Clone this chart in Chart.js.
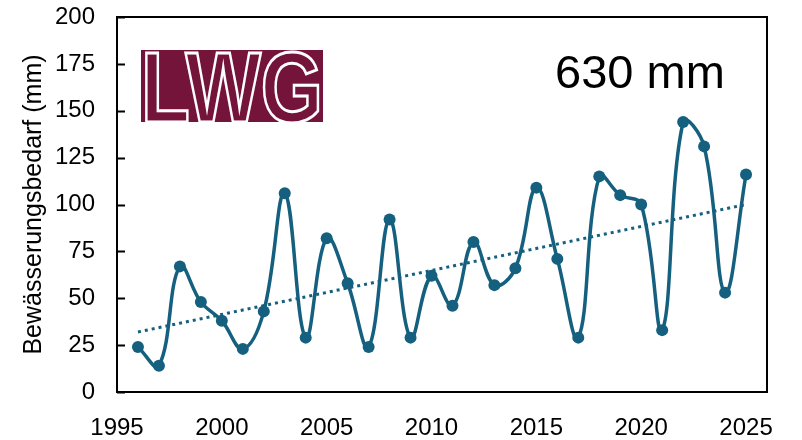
<!DOCTYPE html>
<html>
<head>
<meta charset="utf-8">
<script src="https://cdn.jsdelivr.net/npm/chart.js@4.4.1/dist/chart.umd.min.js"></script>
<style>
  html, body { margin: 0; padding: 0; background: #fff; }
  canvas { display: block; }
</style>
</head>
<body>
<canvas id="chart" width="802" height="440"></canvas>
<script>
// ######### Bewässerungsbedarf 1996 - 2025
// ###########################################

const years = [1996, 1997, 1998, 1999, 2000, 2001, 2002, 2003, 2004, 2005,
               2006, 2007, 2008, 2009, 2010, 2011, 2012, 2013, 2014, 2015,
               2016, 2017, 2018, 2019, 2020, 2021, 2022, 2023, 2024, 2025];
const bedarf = [24, 14, 67, 48, 38, 23, 43, 106, 29, 82,
                58, 24, 92, 29, 62, 46, 80, 57, 66, 109,
                71, 29, 115, 105, 100, 33, 144, 131, 53, 116];

// linearer Trend
const trendYears = [1996, 2025];
const trendValues = [32, 100];

const yTicks = [0, 25, 50, 75, 100, 125, 150, 175, 200];
const xTicks = [1995, 2000, 2005, 2010, 2015, 2020, 2025];

const summe = '630 mm';
const logoText = 'LWG';

const blau = '#15607f';
const weinrot = '#74143b';

// rahmen, innere striche, logo und summe
const extras = {
    id: 'extras',
    afterDraw(chart) {
        const ctx = chart.ctx;
        const a = chart.chartArea;
        const yScale = chart.scales.y;

        ctx.save();
        ctx.strokeStyle = '#000';
        ctx.lineWidth = 2;
        ctx.strokeRect(a.left, a.top, a.right - a.left, a.bottom - a.top);

        ctx.beginPath();
        yTicks.forEach(v => {
            const py = Math.round(yScale.getPixelForValue(v)) + 0.5;
            ctx.moveTo(a.left, py);
            ctx.lineTo(a.left + 8, py);
        });
        ctx.stroke();

        // logo: weinroter block mit weiss ausgesparten buchstaben
        const bx = 141, by = 50, bw = 182, bh = 72;
        ctx.fillStyle = weinrot;
        ctx.fillRect(bx, by, bw, bh);
        ctx.font = 'bold 100px "Liberation Sans"';
        ctx.textBaseline = 'alphabetic';
        const w = ctx.measureText(logoText).width;
        ctx.translate(bx, by + bh);
        ctx.scale(bw / w, bh / 72);
        ctx.strokeStyle = '#fff';
        ctx.lineWidth = 3;
        ctx.strokeText(logoText, 0, 0);
        ctx.restore();

        ctx.save();
        ctx.fillStyle = '#000';
        ctx.font = '47px "Liberation Sans"';
        ctx.textAlign = 'left';
        ctx.textBaseline = 'alphabetic';
        ctx.fillText(summe, 555, 88);
        ctx.restore();
    }
};

const ctx = document.getElementById('chart').getContext('2d');
const chart = new Chart(ctx, {
    type: 'line',
    data: {
        datasets: [{
            label: 'Bewässerungsbedarf',
            data: years.map((j, i) => ({ x: j, y: bedarf[i] })),
            borderColor: blau,
            backgroundColor: blau,
            borderWidth: 3.5,
            tension: 0.4,
            pointRadius: 6,
            pointBackgroundColor: blau,
            pointBorderWidth: 0,
            order: 1
        },
        {
            label: 'Trend',
            data: trendYears.map((j, i) => ({ x: j, y: trendValues[i] })),
            borderColor: blau,
            borderWidth: 3,
            borderDash: [3, 4],
            pointRadius: 0,
            tension: 0,
            order: 2
        }]
    },
    options: {
        responsive: false,
        devicePixelRatio: 1,
        animation: false,
        layout: { padding: { top: 17, right: 35, left: 0, bottom: 0 } },
        plugins: {
            legend: { display: false },
            tooltip: { enabled: false }
        },
        scales: {
            x: {
                type: 'linear',
                min: 1995,
                max: 2026,
                afterBuildTicks: s => { s.ticks = xTicks.map(v => ({ value: v })); },
                afterFit: s => { s.height = 48; s.paddingLeft = 0; s.paddingRight = 0; },
                grid: { display: false },
                border: { display: false },
                ticks: {
                    color: '#000',
                    font: { family: 'Liberation Sans', size: 24 },
                    padding: 14,
                    maxRotation: 0,
                    autoSkip: false,
                    callback: v => String(v)
                }
            },
            y: {
                min: 0,
                max: 200,
                afterBuildTicks: s => { s.ticks = yTicks.map(v => ({ value: v })); },
                afterFit: s => { s.width = 117; s.paddingTop = 0; s.paddingBottom = 0; },
                grid: { display: false },
                border: { display: false },
                ticks: {
                    color: '#000',
                    font: { family: 'Liberation Sans', size: 24 },
                    padding: 14
                },
                title: {
                    display: true,
                    text: 'Bewässerungsbedarf (mm)',
                    color: '#000',
                    font: { family: 'Liberation Sans', size: 25 },
                    padding: { top: 19, bottom: 0 }
                }
            }
        }
    },
    plugins: [extras]
});
</script>
</body>
</html>
